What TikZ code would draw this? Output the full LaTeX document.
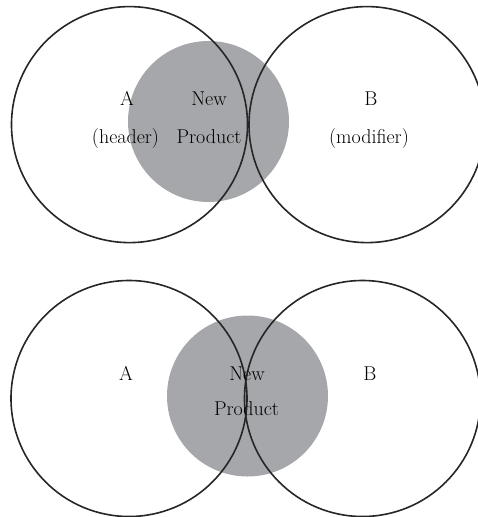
\documentclass[tikz,border=0pt]{standalone}
\begin{document}
\begin{tikzpicture}[x=1pt,y=-1pt,
  ring/.style={circle,draw=black!85,line width=1.6pt,inner sep=0pt,minimum size=236pt},
  blend/.style={circle,fill=productgray,draw=none,inner sep=0pt,minimum size=161pt},
  lbl/.style={anchor=base,inner sep=0pt,font=\fontsize{20}{22}\selectfont}]
\definecolor{productgray}{RGB}{166,167,171}
\useasboundingbox (0,0) rectangle (478,517);
\clip (0,0) rectangle (478,517);
% upper diagram: product circle sits mostly inside A
\node[blend] (P1) at (208.5,121.5) {};
\node[ring] (A1) at (129.5,124.6) {};
\node[ring] (B1) at (367,124.6) {};
\node[lbl] (a1) at (127,105) {A};
\node[lbl] (h1) at (125.5,143) {(header)};
\node[lbl] (n1) at (209,105) {New};
\node[lbl] (p1) at (209,143) {Product};
\node[lbl] (b1) at (371,105) {B};
\node[lbl] (m1) at (369,143) {(modifier)};
% lower diagram: product circle centred on the overlap
\node[blend] (P2) at (247.5,396) {};
\node[ring] (A2) at (129,398.5) {};
\node[ring] (B2) at (362.5,398.5) {};
\node[lbl] (a2) at (126,380) {A};
\node[lbl] (n2) at (247,380) {New};
\node[lbl] (p2) at (246.5,415) {Product};
\node[lbl] (b2) at (370,380) {B};
\end{tikzpicture}
\end{document}
